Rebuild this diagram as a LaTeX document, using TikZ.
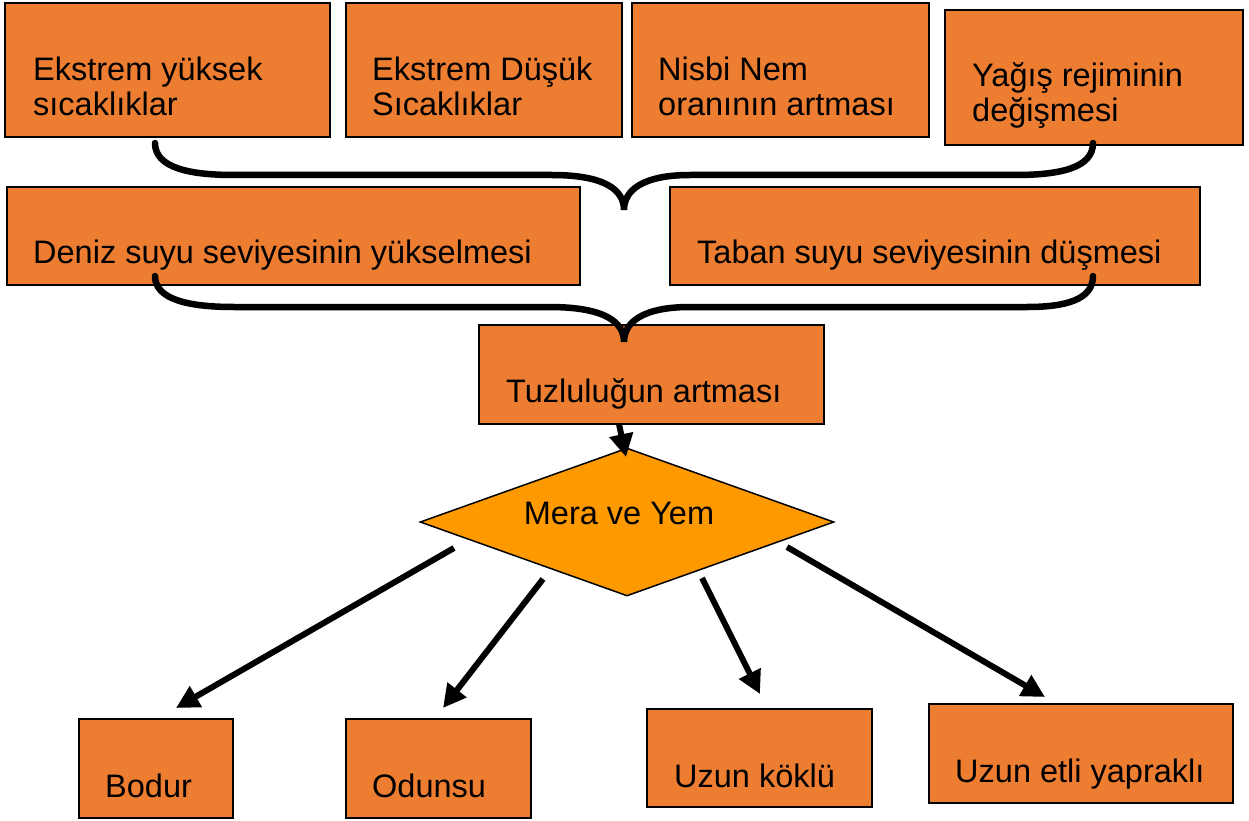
\documentclass[tikz,border=0pt]{standalone}
\usepackage{fontspec}
\setmainfont{Liberation Sans}
\usetikzlibrary{arrows.meta,shapes.geometric}
\definecolor{boxor}{HTML}{ED7D31}
\definecolor{diaor}{HTML}{FF9900}
\begin{document}
\begin{tikzpicture}[x=1pt,y=-1pt,
  box/.style={draw=black, line width=2pt, fill=boxor, inner sep=0pt, rectangle},
  lbl/.style={anchor=base west, inner sep=0pt, font=\fontsize{32.5}{35}\selectfont, align=left},
  brace/.style={line width=6.5pt, line cap=round, draw=black},
  arr/.style={line width=6pt, draw=black, -{Triangle[length=23pt,width=23pt]}}]
\useasboundingbox (0,0) rectangle (1249,821);

% top row
\node[box, minimum width=325pt, minimum height=134pt] (b1) at (167.5,70) {};
\node[box, minimum width=276pt, minimum height=134pt] (b2) at (484,70) {};
\node[box, minimum width=297pt, minimum height=134pt] (b3) at (780.5,70) {};
\node[box, minimum width=298pt, minimum height=135pt] (b4) at (1094,77.5) {};
\node[lbl] (t1) at (33,116) {Ekstrem yüksek\\sıcaklıklar};
\node[lbl] (t2) at (372,116) {Ekstrem Düşük\\Sıcaklıklar};
\node[lbl] (t3) at (658,116) {Nisbi Nem\\oranının artması};
\node[lbl] (t4) at (972,122) {Yağış rejiminin\\değişmesi};

% second row
\node[box, minimum width=573pt, minimum height=98pt] (b5) at (293.5,236) {};
\node[box, minimum width=530pt, minimum height=98pt] (b6) at (935,236) {};
\node[lbl] (t5) at (33,263) {Deniz suyu seviyesinin yükselmesi};
\node[lbl] (t6) at (697,263) {Taban suyu seviyesinin düşmesi};

% third row
\node[box, minimum width=345pt, minimum height=99pt] (b7) at (651.5,374.5) {};
\node[lbl] (t7) at (506,402) {Tuzluluğun artması};

% braces
\draw[brace] (155,143) .. controls (155,168) and (190,175) .. (234,175) -- (552,175)
  .. controls (605,175) and (624,190) .. (624,210)
  .. controls (624,190) and (643,175) .. (690,175) -- (1015,175)
  .. controls (1060,175) and (1093,168) .. (1093,143);
\draw[brace] (155,276) .. controls (155,300) and (190,307) .. (234,307) -- (549,307)
  .. controls (605,307) and (624,322) .. (624,342)
  .. controls (624,322) and (643,307) .. (690,307) -- (1027,307)
  .. controls (1065,307) and (1093,300) .. (1093,276);

% diamond
\node[diamond, draw=black, line width=1.5pt, fill=diaor, inner sep=0pt,
      minimum width=414pt, minimum height=148pt] (d) at (627,522) {};
\node[anchor=base, inner sep=0pt, font=\fontsize{32.5}{35}\selectfont] (td) at (619,524) {Mera ve Yem};

% bottom boxes
\node[box, minimum width=154pt, minimum height=99pt] (b8) at (156,768.5) {};
\node[box, minimum width=185pt, minimum height=99pt] (b9) at (438.5,768.5) {};
\node[box, minimum width=225pt, minimum height=98pt] (b10) at (759.5,758) {};
\node[box, minimum width=304pt, minimum height=99pt] (b11) at (1081,753.5) {};
\node[lbl] (t8) at (105,797) {Bodur};
\node[lbl] (t9) at (372,797) {Odunsu};
\node[lbl] (t10) at (674,787) {Uzun köklü};
\node[lbl] (t11) at (955,782) {Uzun etli yapraklı};

% arrows
\coordinate (s0) at (619,424); \coordinate (e0) at (626,457);
\coordinate (s1) at (454,548); \coordinate (e1) at (176,708);
\coordinate (s2) at (543,579); \coordinate (e2) at (443,708);
\coordinate (s3) at (702,578); \coordinate (e3) at (760,694);
\coordinate (s4) at (787,547); \coordinate (e4) at (1045,697);
\draw[arr] (s0) -- (e0);
\draw[arr] (s1) -- (e1);
\draw[arr] (s2) -- (e2);
\draw[arr] (s3) -- (e3);
\draw[arr] (s4) -- (e4);
\end{tikzpicture}
\end{document}
